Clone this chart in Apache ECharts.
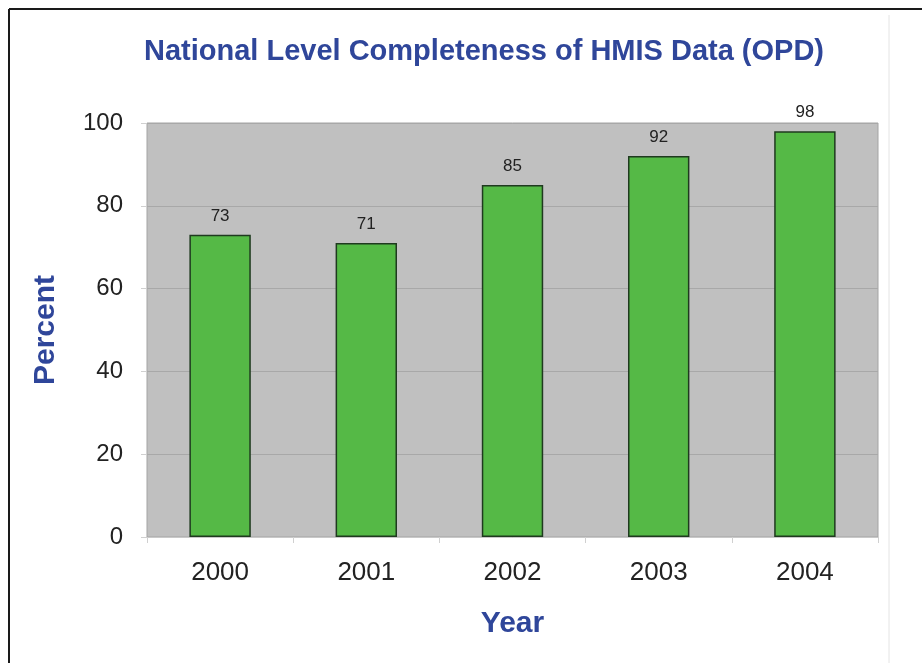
<!DOCTYPE html>
<html>
<head>
<meta charset="utf-8">
<script src="https://cdn.jsdelivr.net/npm/echarts@6/dist/echarts.min.js"></script>
<style>html,body{margin:0;padding:0;background:#fff}#c{width:922px;height:663px}</style>
</head>
<body>
<div id="c"></div>
<script>
const years = ['2000', '2001', '2002', '2003', '2004'];
const completeness = [73, 71, 85, 92, 98];
const yTicks = [0, 20, 40, 60, 80, 100];

const chart = echarts.init(document.getElementById('c'), null, {renderer: 'canvas'});
const font = 'Liberation Sans, Arial, Helvetica, sans-serif';
const blue = '#2f469a';
chart.setOption({
  animation: false,
  backgroundColor: '#ffffff',
  title: {
    text: 'National Level Completeness of HMIS Data (OPD)',
    left: 139, top: 32,
    textStyle: {fontFamily: font, fontSize: 29, fontWeight: 'bold', color: blue}
  },
  graphic: [
    {type: 'line', shape: {x1: 9, y1: 9, x2: 922, y2: 9}, style: {stroke: '#1a1a1a', lineWidth: 2}},
    {type: 'line', shape: {x1: 9, y1: 9, x2: 9, y2: 663}, style: {stroke: '#1a1a1a', lineWidth: 2}},
    {type: 'line', shape: {x1: 889, y1: 15, x2: 889, y2: 663}, style: {stroke: '#e4e4e4', lineWidth: 1}}
  ],
  grid: {
    left: 147, top: 123, right: 44, bottom: 126,
    show: true, backgroundColor: '#c0c0c0', borderColor: '#a4a4a4', borderWidth: 1
  },
  xAxis: {
    type: 'category',
    data: years,
    name: 'Year', nameLocation: 'middle', nameGap: 72,
    nameTextStyle: {fontFamily: font, fontSize: 30, fontWeight: 'bold', color: blue},
    axisLine: {show: true, lineStyle: {color: '#c8c8c8', width: 1}},
    axisTick: {show: true, length: 6, lineStyle: {color: '#d0d0d0'}},
    axisLabel: {fontFamily: font, fontSize: 26, color: '#222', margin: 23}
  },
  yAxis: {
    type: 'value',
    min: 0, max: 100, interval: 20,
    name: 'Percent', nameLocation: 'middle', nameGap: 86, nameRotate: 90,
    nameTextStyle: {fontFamily: font, fontSize: 30, fontWeight: 'bold', color: blue},
    axisLine: {show: false},
    axisTick: {show: true, length: 6, lineStyle: {color: '#d0d0d0'}},
    axisLabel: {
      fontFamily: font, fontSize: 24, color: '#222', margin: 24,
      formatter: v => yTicks.includes(v) ? String(v) : ''
    },
    splitLine: {show: true, lineStyle: {color: '#a8a8a8', width: 1}}
  },
  series: [{
    type: 'bar',
    data: completeness,
    barWidth: '42%',
    itemStyle: {color: '#55b946', borderColor: '#1f3a1f', borderWidth: 1.5},
    label: {
      show: true, position: 'top', distance: 10,
      fontFamily: font, fontSize: 17, color: '#222'
    }
  }]
});
</script>
</body>
</html>
